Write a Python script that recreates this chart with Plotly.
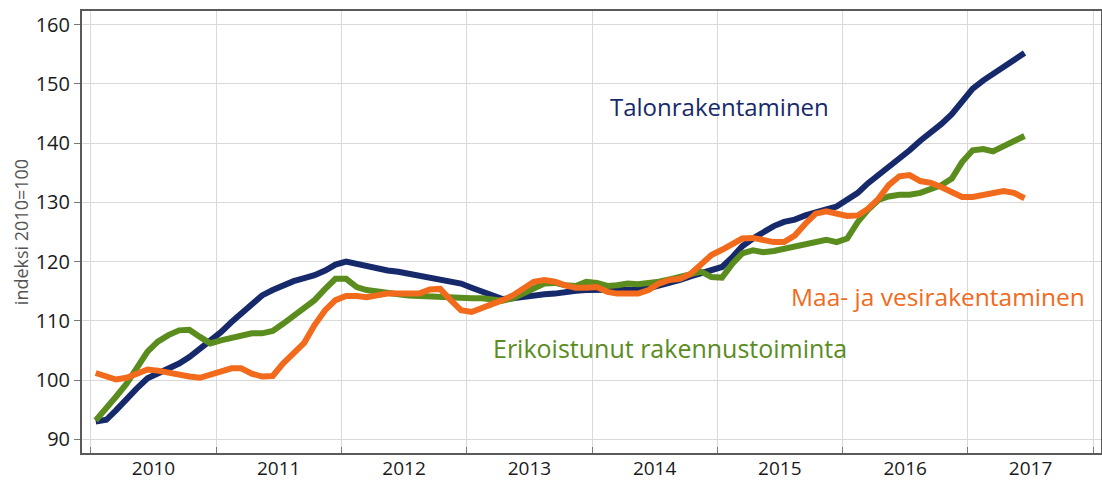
import pandas as pd
import plotly.graph_objects as go

# Monthly index values, Jan 2010 .. Jun 2017 (2010=100)
months = pd.date_range("2010-01-01", periods=90, freq="MS") + pd.Timedelta(days=14)

talonrakentaminen = [
    93.0, 93.3, 94.9, 96.9, 98.6, 100.3, 101.1, 102.0, 102.8, 103.9, 105.3, 106.7,
    108.1, 109.8, 111.3, 112.9, 114.3, 115.2, 116.0, 116.7, 117.2, 117.7, 118.5, 119.5,
    120.0, 119.6, 119.1, 118.8, 118.5, 118.3, 118.0, 117.7, 117.3, 117.0, 116.7, 116.3,
    115.6, 115.0, 114.2, 113.7, 113.8, 114.1, 114.3, 114.5, 114.6, 114.9, 115.1, 115.2,
    115.2, 115.3, 115.3, 115.3, 115.3, 115.5, 115.9, 116.3, 116.9, 117.5, 118.1, 118.6,
    119.1, 120.8, 122.6, 123.9, 125.0, 126.0, 126.7, 127.1, 127.8, 128.4, 128.8, 129.3,
    130.4, 131.6, 133.2, 134.6, 136.0, 137.2, 138.8, 140.4, 141.8, 143.2, 144.9, 147.2,
    149.2, 150.6, 151.7, 152.8, 153.9, 155.2,
]
erikoistunut = [
    93.2, 95.2, 97.2, 99.4, 102.0, 104.8, 106.5, 107.6, 108.4, 108.5, 107.3, 106.2,
    106.7, 107.2, 107.6, 107.9, 107.9, 108.3, 109.5, 110.9, 112.0, 113.5, 115.4, 117.1,
    117.1, 115.7, 115.2, 114.9, 114.7, 114.5, 114.3, 114.2, 114.0, 114.0, 114.0, 113.9,
    113.8, 113.8, 113.5, 113.4, 113.8, 114.6, 115.6, 116.3, 116.4, 116.0, 115.9, 116.6,
    116.4, 115.9, 116.0, 116.3, 116.2, 116.3, 116.6, 117.0, 117.4, 117.9, 118.3, 117.4,
    117.3, 119.7, 121.4, 121.9, 121.6, 121.8, 122.2, 122.6, 122.9, 123.3, 123.7, 123.3,
    123.9, 126.7, 128.7, 130.4, 131.0, 131.3, 131.3, 131.6, 132.2, 132.9, 134.0, 136.8,
    138.8, 139.0, 138.6, 139.5, 140.3, 141.2,
]
maa_vesi = [
    101.2, 100.6, 100.1, 100.4, 101.2, 101.8, 101.6, 101.2, 100.8, 100.6, 100.4, 101.0,
    101.4, 102.0, 102.0, 101.1, 100.6, 100.7, 102.8, 104.5, 106.3, 109.3, 111.8, 113.5,
    114.2, 114.2, 114.0, 114.3, 114.6, 114.6, 114.5, 114.6, 115.3, 115.4, 113.5, 111.8,
    111.5, 112.1, 112.8, 113.5, 114.3, 115.4, 116.6, 116.9, 116.6, 116.0, 115.6, 115.6,
    115.7, 114.9, 114.6, 114.6, 114.6, 115.2, 116.3, 116.9, 117.1, 117.9, 119.4, 121.1,
    122.0, 123.0, 123.9, 124.0, 123.7, 123.3, 123.3, 124.4, 126.4, 128.1, 128.5, 128.1,
    127.7, 127.8, 128.9, 130.6, 132.9, 134.4, 134.6, 133.6, 133.3, 132.6, 131.7, 130.9,
    130.9, 131.2, 131.6, 131.9, 131.6, 130.7,
]

y_ticks = [90, 100, 110, 120, 130, 140, 150, 160]

NAVY = "#16296b"
GREEN = "#5b8c1e"
ORANGE = "#f26a1b"
FONT = "Open Sans"
TICK_COLOR = "#1a1a1a"

fig = go.Figure()
fig.add_trace(go.Scatter(x=months, y=talonrakentaminen, mode="lines",
                         line=dict(color=NAVY, width=6), name="Talonrakentaminen"))
fig.add_trace(go.Scatter(x=months, y=erikoistunut, mode="lines",
                         line=dict(color=GREEN, width=6), name="Erikoistunut rakennustoiminta"))
fig.add_trace(go.Scatter(x=months, y=maa_vesi, mode="lines",
                         line=dict(color=ORANGE, width=6), name="Maa- ja vesirakentaminen"))

fig.update_layout(
    width=1102, height=481,
    margin=dict(l=82, r=1, t=11, b=28, autoexpand=False),
    paper_bgcolor="white", plot_bgcolor="white",
    showlegend=False, hovermode=False,
    font=dict(family=FONT, color=TICK_COLOR),
)
fig.update_xaxes(
    type="date", automargin=False,
    range=["2009-12-06", "2018-01-24"],
    tick0="2010-01-01", dtick="M12",
    ticklabelmode="period", tickformat="%Y",
    ticks="inside", ticklen=6, tickcolor="#777777", tickwidth=1,
    ticklabelstandoff=-3,
    showgrid=True, gridcolor="#d9d9d9", gridwidth=1,
    showline=True, linecolor="#5a5a5a", linewidth=2, mirror=True,
    tickfont=dict(size=19, family=FONT, color=TICK_COLOR),
)
fig.update_yaxes(
    automargin=False,
    range=[87.7, 162.3],
    tickvals=y_ticks,
    ticks="outside", ticklen=6, tickcolor="#777777", tickwidth=1,
    showgrid=True, gridcolor="#d9d9d9", gridwidth=1,
    showline=True, linecolor="#5a5a5a", linewidth=2, mirror=True,
    zeroline=False,
    tickfont=dict(size=20, family=FONT, color=TICK_COLOR),
    title=dict(text="indeksi 2010=100", font=dict(size=18, family=FONT, color="#555555"),
               standoff=2),
)

fig.add_annotation(text="Talonrakentaminen", xref="paper", yref="paper",
                   x=0.626, y=0.783, xanchor="center", yanchor="middle", showarrow=False,
                   font=dict(size=24, family=FONT, color=NAVY))
fig.add_annotation(text="Maa- ja vesirakentaminen", xref="paper", yref="paper",
                   x=0.840, y=0.353, xanchor="center", yanchor="middle", showarrow=False,
                   font=dict(size=24.5, family=FONT, color=ORANGE))
fig.add_annotation(text="Erikoistunut rakennustoiminta", xref="paper", yref="paper",
                   x=0.577, y=0.2376, xanchor="center", yanchor="middle", showarrow=False,
                   font=dict(size=25, family=FONT, color=GREEN))

fig.write_html("out.html",
               config={"displayModeBar": False},
               post_script="document.body.style.margin='0';document.body.style.padding='0';")
